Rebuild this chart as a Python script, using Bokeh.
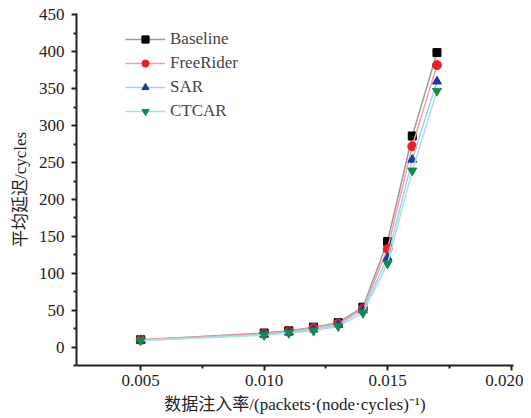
from bokeh.plotting import figure
from bokeh.models import Range1d, FixedTicker, Legend, LegendItem
from bokeh.embed import file_html
from bokeh.resources import INLINE

rates = [0.005, 0.010, 0.011, 0.012, 0.013, 0.014, 0.015, 0.016, 0.017]
baseline = [10, 19, 22, 27, 33, 54, 143, 286, 399]
freerider = [10, 18, 21, 26, 32, 52, 133, 272, 382]
sar = [9, 17, 20, 24, 30, 50, 121, 254, 360]
ctcar = [9, 16, 19, 22, 28, 46, 113, 239, 347]

names = ["Baseline", "FreeRider", "SAR", "CTCAR"]
series = [baseline, freerider, sar, ctcar]
x_ticks = [0.005, 0.010, 0.015, 0.020]
x_tick_labels = ["0.005", "0.010", "0.015", "0.020"]
y_ticks = [0, 50, 100, 150, 200, 250, 300, 350, 400, 450]

SERIF = "'Liberation Serif', 'Noto Sans CJK SC', serif"

p = figure(width=523, height=418, output_backend="svg", toolbar_location=None,
           x_range=Range1d(0.0024, 0.0201), y_range=Range1d(-25, 452),
           min_border_left=76, min_border_right=10, min_border_top=13, min_border_bottom=53)
p.outline_line_color = None
p.xgrid.visible = False
p.ygrid.visible = False
p.background_fill_color = "white"

line_colors = ["#9a9a9a", "#f4a0a0", "#a8cbee", "#a8e2dc"]
marker_colors = ["#000000", "#e8202a", "#1f3c9c", "#138a4e"]
markers = ["square", "circle", "triangle", "inverted_triangle"]
sizes = [8, 9, 9, 9]

items = []
for name, ys, lc, mc, mk, sz in zip(names, series, line_colors, marker_colors, markers, sizes):
    r1 = p.line(rates, ys, line_color=lc, line_width=1.5)
    r2 = p.scatter(rates, ys, marker=mk, size=sz, fill_color=mc, line_color=mc)
    items.append(LegendItem(label=name, renderers=[r1, r2]))

legend = Legend(items=items, border_line_color=None,
                background_fill_alpha=0, label_text_font=SERIF,
                label_text_font_size="17px", glyph_width=40, glyph_height=18,
                spacing=4, label_standoff=5, margin=0, padding=0)
legend.location = (49, 244)
p.add_layout(legend)

for ax in (p.xaxis[0], p.yaxis[0]):
    ax.axis_line_width = 2
    ax.axis_line_color = "#222222"
    ax.major_tick_line_width = 2
    ax.major_tick_line_color = "#222222"
    ax.minor_tick_line_width = 2
    ax.minor_tick_line_color = "#222222"
    ax.major_label_text_font = SERIF
    ax.major_label_text_font_size = "17px"
    ax.major_label_text_color = "#222222"
    ax.axis_label_text_font = SERIF
    ax.axis_label_text_font_size = "17px"
    ax.axis_label_text_font_style = "normal"
    ax.axis_label_text_color = "#222222"
    ax.major_tick_out = 5
    ax.major_tick_in = 0
    ax.minor_tick_out = 3
    ax.minor_tick_in = 0

p.xaxis.ticker = FixedTicker(ticks=x_ticks, minor_ticks=[0.0075, 0.0125, 0.0175])
p.xaxis.major_label_overrides = {t: l for t, l in zip(x_ticks, x_tick_labels)}
p.yaxis.ticker = FixedTicker(ticks=y_ticks, minor_ticks=[-25, 25, 75, 125, 175, 225, 275, 325, 375, 425])
p.xaxis.axis_label = "数据注入率/(packets·(node·cycles)⁻¹)"
p.yaxis.axis_label = "平均延迟/cycles"
p.xaxis.major_label_standoff = 4
p.xaxis.axis_label_standoff = 6
p.yaxis.major_label_standoff = 7
p.yaxis.axis_label_standoff = 6

open("out.html", "w").write(file_html(p, INLINE))
